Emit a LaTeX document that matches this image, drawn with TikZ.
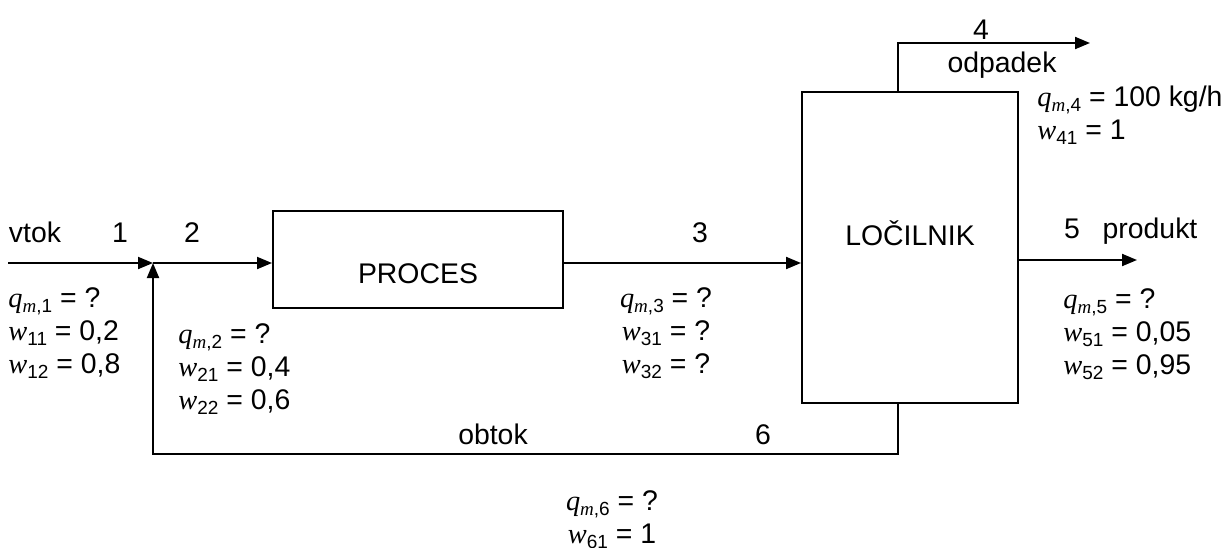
\documentclass[tikz,border=0pt]{standalone}
\usepackage{fontspec}
\setmainfont{Liberation Sans}
\newfontfamily\tnr{Liberation Serif}
\usetikzlibrary{arrows.meta}
\newcommand{\lowsub}[1]{\raisebox{-2.5pt}{\fontsize{9.5}{10}\selectfont #1}}
\newcommand{\qm}[1]{{\tnr\itshape q}\lowsub{{\tnr\itshape m},#1}}
\newcommand{\wf}[1]{{\tnr\itshape w}\lowsub{#1}}
\tikzstyle{unit}=[draw=black, line width=1pt, inner sep=0pt]
\tikzstyle{stream}=[draw=black, line width=1pt, -{Triangle[length=7.5pt,width=6pt]}]
\tikzstyle{lbl}=[inner sep=0pt, anchor=base, font=\fontsize{14.2}{16.5}\selectfont]
\tikzstyle{data}=[lbl, align=left, anchor=north west]

\begin{document}
\begin{tikzpicture}[x=0.5pt, y=-0.5pt]
	\useasboundingbox (0,0) rectangle (1229,547);
	% units
	\node (proc) at (418,259.5)[unit, minimum width=145pt, minimum height=48.5pt,
		label={[lbl, anchor=center, yshift=-7pt]center:PROCES}] {};
	\node (sep) at (910,247.5)[unit, minimum width=108pt, minimum height=155.5pt,
		label={[lbl, anchor=center, yshift=7.3pt]center:LOČILNIK}] {};
	% stream ends
	\coordinate (in) at (8,263);
	\coordinate (mix) at (153,263);
	\coordinate (out4) at (1090,43);
	\coordinate (out5) at (1137,260);
	\coordinate (ret) at (153,454);
	% streams
	\draw[stream] (in) -- (mix);
	\draw[stream] (mix) -- (mix -| proc.west);
	\draw[stream] (mix -| proc.east) -- (mix -| sep.west);
	\draw[stream] ([xshift=-6pt]sep.north) |- (out4);
	\draw[stream] (out5 -| sep.east) -- (out5);
	\draw[stream] ([xshift=-6pt]sep.south) |- (ret) -- (mix);
	% stream names and numbers (placed on their baselines)
	\node[lbl] (vtok) at (35,242) {vtok};
	\node[lbl] (n1) at (120,242) {1};
	\node[lbl] (n2) at (192,242) {2};
	\node[lbl] (n3) at (700,242) {3};
	\node[lbl] (n4) at (981,39) {4};
	\node[lbl] (odp) at (1002,72) {odpadek};
	\node[lbl] (n5) at (1072,238) {5};
	\node[lbl] (prod) at (1150,238) {produkt};
	\node[lbl] (obt) at (493,444) {obtok};
	\node[lbl] (n6) at (763,444) {6};
	% stream data
	\node[data] (s1) at (8,287) {\qm{1} = ?\\ \wf{11} = 0,2\\ \wf{12} = 0,8};
	\node[data] (s2) at (178,323) {\qm{2} = ?\\ \wf{21} = 0,4\\ \wf{22} = 0,6};
	\node[data, anchor=north, align=center] (s3) at (666,287) {\qm{3} = ?\\ \wf{31} = ?\\ \wf{32} = ?};
	\node[data] (s4) at (1037,86) {\qm{4} = 100 kg/h\\ \wf{41} = 1};
	\node[data] (s5) at (1063,288) {\qm{5} = ?\\ \wf{51} = 0,05\\ \wf{52} = 0,95};
	\node[data, anchor=north, align=center] (s6) at (612,490) {\qm{6} = ?\\ \wf{61} = 1};
\end{tikzpicture}
\end{document}
